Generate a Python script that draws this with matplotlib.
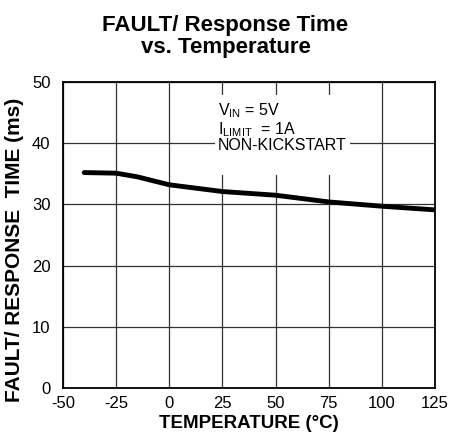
import matplotlib

matplotlib.use("Agg", force=True)
import matplotlib.pyplot as plt
from matplotlib.patches import Rectangle

plt.rcParams["font.family"] = ["Liberation Sans", "DejaVu Sans"]
plt.rcParams["axes.unicode_minus"] = False

# curve
temperature = [-40, -25, -15, 0, 25, 50, 75, 100, 125]
response_ms = [35.2, 35.1, 34.5, 33.2, 32.1, 31.5, 30.4, 29.7, 29.1]
x_ticks = [-50, -25, 0, 25, 50, 75, 100, 125]
y_ticks = [0, 10, 20, 30, 40, 50]

fig = plt.figure(figsize=(4.51, 4.42), dpi=100)
ax = fig.add_axes([0.1397, 0.1222, 0.825, 0.6923])

ax.plot(temperature, response_ms, color="black", lw=3.5, solid_capstyle="round",
        zorder=4)
ax.set_xlim(-50, 125)
ax.set_ylim(0, 50)
ax.set_xticks(x_ticks)
ax.set_yticks(y_ticks)
ax.tick_params(length=0, labelsize=12)
ax.tick_params(axis="y", pad=9)
ax.tick_params(axis="x", pad=6)
ax.grid(True, color="#333333", lw=0.9)
ax.set_axisbelow(True)
for spine in ax.spines.values():
    spine.set_linewidth(1.3)

ax.add_patch(Rectangle((21.5, 34.8), 63.5, 13.1, facecolor="white",
                       edgecolor="none", zorder=2))
ax.text(23, 46.8, "V$_{\\mathregular{IN}}$ = 5V\nI$_{\\mathregular{LIMIT}}$  = 1A\nNON-KICKSTART",
        fontsize=11.5, va="top", ha="left", linespacing=0.97, zorder=3)

ax.set_xlabel("TEMPERATURE (°C)", fontsize=13.5, fontweight="bold", labelpad=3)
ax.set_ylabel("FAULT/ RESPONSE  TIME (ms)", fontsize=15, fontweight="bold")
ax.yaxis.set_label_coords(-0.105, 0.45)
fig.suptitle("FAULT/ Response Time\nvs. Temperature", fontsize=16,
             fontweight="bold", x=0.5, y=0.966, linespacing=1.05)

fig.savefig("out.png", dpi=100)
